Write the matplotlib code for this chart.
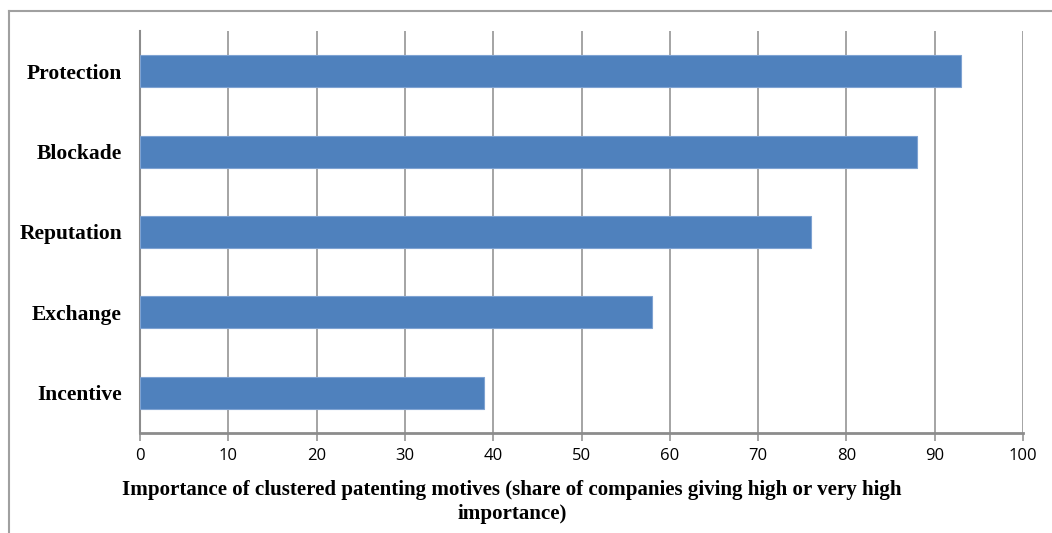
import matplotlib.pyplot as plt
from matplotlib.lines import Line2D

# patenting motives, share of companies rating them high / very high (%)
motives = ['Protection', 'Blockade', 'Reputation', 'Exchange', 'Incentive']
shares = [93, 88, 76, 58, 39]
ticks = list(range(0, 101, 10))

W, H = 1052, 533
fig = plt.figure(figsize=(W / 100, H / 100), dpi=100)
ax = fig.add_axes([140 / W, 1 - 433 / H, 883 / W, 402 / H])

ypos = list(range(len(motives)))[::-1]
ax.barh(ypos, shares, height=0.4, color='#4F81BD', edgecolor='#7FA3D2',
        linewidth=0.8, zorder=3)

ax.set_xlim(0, 100)
ax.set_ylim(-0.5, len(motives) - 0.5)
ax.set_xticks(ticks)
ax.set_xticklabels([str(t) for t in ticks], fontfamily='Open Sans', fontsize=12)
ax.set_yticks(ypos)
ax.set_yticklabels(motives, fontfamily='Liberation Serif', fontweight='bold',
                   fontsize=15.5)
ax.xaxis.grid(True, color='#8C8C8C', linewidth=1.1, zorder=0)
ax.tick_params(axis='x', length=6, width=1.1, color='#8C8C8C', pad=5)
ax.tick_params(axis='y', length=0, pad=13)

for side in ['top', 'right']:
    ax.spines[side].set_visible(False)
ax.spines['left'].set_color('#8C8C8C')
ax.spines['left'].set_linewidth(1.5)
ax.spines['bottom'].set_color('#8C8C8C')
ax.spines['bottom'].set_linewidth(2)

fig.text(512 / W, 1 - 502 / H,
         'Importance of clustered patenting motives (share of companies giving high or very high\nimportance)',
         ha='center', va='center', ma='center', fontfamily='Liberation Serif',
         fontweight='bold', fontsize=15.1, linespacing=1.2)

# outer chart frame
fig.add_artist(Line2D([9 / W, 1], [1 - 11 / H, 1 - 11 / H], color='#A0A0A0', linewidth=1.5))
fig.add_artist(Line2D([9 / W, 9 / W], [0, 1 - 11 / H], color='#A0A0A0', linewidth=1.5))

fig.savefig('out.png', dpi=100)
